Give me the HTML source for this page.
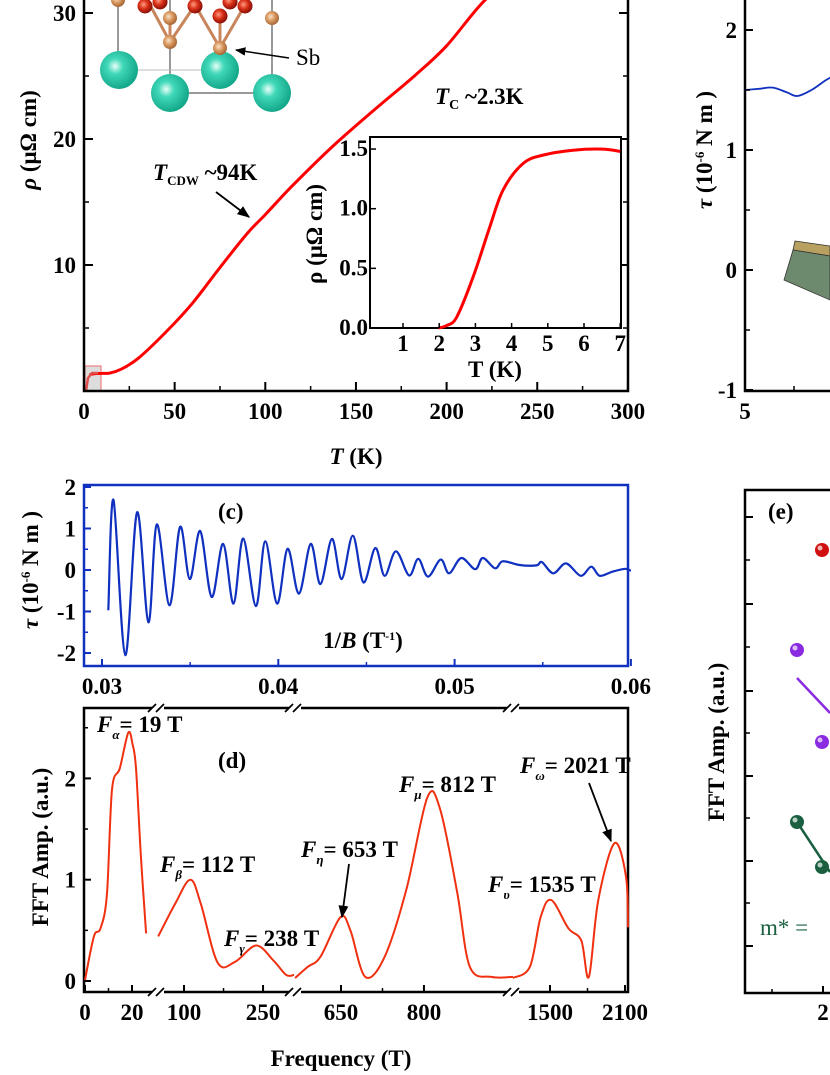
<!DOCTYPE html>
<html><head><meta charset="utf-8"><style>
html,body{margin:0;padding:0;background:#fff;}
svg{display:block;font-family:"Liberation Serif",serif;}
.t{font-weight:bold;font-size:23px;}
</style></head><body>
<svg id="fig" width="830" height="1075" viewBox="0 0 830 1075" xmlns="http://www.w3.org/2000/svg">
<defs>
<radialGradient id="teal" cx="0.4" cy="0.4" r="0.6"><stop offset="0" stop-color="#e8fff8"/><stop offset="0.35" stop-color="#3fd8b8"/><stop offset="1" stop-color="#14a88a"/></radialGradient>
<radialGradient id="sb" cx="0.4" cy="0.4" r="0.6"><stop offset="0" stop-color="#fbe4c8"/><stop offset="0.5" stop-color="#d99a62"/><stop offset="1" stop-color="#a86838"/></radialGradient>
<radialGradient id="rd" cx="0.4" cy="0.4" r="0.6"><stop offset="0" stop-color="#ff9a80"/><stop offset="0.5" stop-color="#d83018"/><stop offset="1" stop-color="#8a1008"/></radialGradient>
<marker id="arr" viewBox="0 0 10 10" refX="9" refY="5" markerWidth="7" markerHeight="7" orient="auto"><path d="M0,1 L10,5 L0,9 Z" fill="#000"/></marker>
</defs>
<g id="pa"></g>
<g id="pb"></g>
<g id="pc"></g>
<g id="pd"></g>
<g id="pe"></g>
</svg>
<script>
// ---- Panel a data ----
const aTemps=[3,6,10,14,20,30,46,60,75,90,100,115,137,160,183,200,221,240];
const aRho=[1.3,1.38,1.4,1.42,1.7,2.6,4.8,7,9.8,12.5,14,16.3,19.4,22.3,25.1,27.4,31,33];
const aXTicks=[0,50,100,150,200,250,300];
const aYTicks=[10,20,30];
// inset
const iTemps=[1.98,2.2,2.48,2.94,3.4,3.77,4.32,4.88,5.7,6.5,7];
const iRho=[0,0.02,0.09,0.43,0.85,1.16,1.38,1.45,1.49,1.5,1.48];
const iXTicks=[1,2,3,4,5,6,7];
const iYTicks=[0.0,0.5,1.0,1.5];
// ---- Panel b ----
const bField=[5,5.4,5.8,6.2,6.5,6.9,7.3,7.6];
const bTau=[1.5,1.51,1.52,1.48,1.45,1.5,1.58,1.63];
const bYTicks=[2,1,0,-1];
// ---- Panel c ----
const cInvB=[0.03036,0.03065,0.03132,0.03199,0.03263,0.03311,0.03383,0.03443,0.03498,0.03557,0.03622,0.03687,0.03746,0.03801,0.03873,0.03926,0.03993,0.04053,0.04117,0.04184,0.04239,0.04304,0.04359,0.04423,0.04483,0.0455,0.04603,0.04667,0.04742,0.04794,0.04849,0.04921,0.04969,0.05038,0.05117,0.0516,0.0523,0.05273,0.05368,0.05464,0.05495,0.0556,0.05632,0.05715,0.05775,0.05823,0.05895,0.05967,0.06];
const cTau=[-0.97,1.69,-2.05,1.39,-1.26,1.1,-0.85,1.04,-0.22,0.94,-0.65,0.63,-0.81,0.76,-0.87,0.69,-0.81,0.51,-0.57,0.63,-0.34,0.75,-0.22,0.83,-0.3,0.53,-0.14,0.45,-0.13,0.27,-0.16,0.25,-0.08,0.29,0.02,0.29,0.04,0.21,0.12,0.11,0.19,-0.08,0.16,-0.14,0.08,-0.14,-0.04,0.03,-0.02];
const cXTicks=[0.03,0.04,0.05,0.06];
const cYTicks=[2,1,0,-1,-2];
// ---- Panel d (segments) ----
const dF1=[0,3.8,6.6,9.3,11.5,14.8,18.4,20.2,21.7,23.8,26];
const dA1=[0.01,0.44,0.52,0.85,1.89,2.1,2.45,2.34,2.1,1.23,0.47];
const dF2=[51,83,112,132,164,197,237,270,294,309];
const dA2=[0.44,0.76,1.0,0.76,0.18,0.19,0.35,0.2,0.06,0.06];
const dF3=[567,590,613,649,667,694,729,768,806,829,860,883,922,961];
const dA3=[0.03,0.14,0.24,0.63,0.5,0.04,0.24,0.9,1.81,1.7,0.88,0.14,0.04,0.04];
const dF4=[1202,1339,1425,1510,1647,1750,1811,1886,2016,2108,2124];
const dA4=[0.03,0.14,0.63,0.8,0.52,0.4,0.04,0.8,1.36,1.03,0.53];
const dXTicks=[0,20,100,250,650,800,1500,2100];
const dYTicks=[0,1,2];

const NS="http://www.w3.org/2000/svg";
function mk(parent,tag,attrs,text){const e=document.createElementNS(NS,tag);for(const k in attrs)e.setAttribute(k,attrs[k]);if(text!==undefined)e.textContent=text;parent.appendChild(e);return e;}
function spline(pts){let d="M"+pts[0][0].toFixed(1)+","+pts[0][1].toFixed(1);for(let i=0;i<pts.length-1;i++){const p0=pts[i-1]||pts[i],p1=pts[i],p2=pts[i+1],p3=pts[i+2]||p2;const c1=[p1[0]+(p2[0]-p0[0])/6,p1[1]+(p2[1]-p0[1])/6],c2=[p2[0]-(p3[0]-p1[0])/6,p2[1]-(p3[1]-p1[1])/6];d+="C"+c1[0].toFixed(1)+","+c1[1].toFixed(1)+" "+c2[0].toFixed(1)+","+c2[1].toFixed(1)+" "+p2[0].toFixed(1)+","+p2[1].toFixed(1);}return d;}

// ===== Panel A =====
const pa=document.getElementById('pa');
const xA=t=>84+t*1.813, yA=r=>391-r*12.6;
const cr=mk(pa,'g',{});


[[118,0,118,70],[170,0,170,93],[272,0,272,93],[170,93,272,93]].forEach(l=>mk(cr,'line',{x1:l[0],y1:l[1],x2:l[2],y2:l[3],stroke:'#333','stroke-width':1}));
mk(cr,'line',{x1:119,y1:70,x2:220,y2:70,stroke:'#bbb','stroke-width':1});
[[170,18,170,42],[220,12,220,48],[195,5,220,48],[245,5,220,48],[195,5,170,42],[150,5,170,42]].forEach(l=>mk(cr,'line',{x1:l[0],y1:l[1],x2:l[2],y2:l[3],stroke:'#c8845a','stroke-width':3}));
[[119,70],[220,70],[170,93],[272,93]].forEach(c=>mk(cr,'circle',{cx:c[0],cy:c[1],r:19,fill:'url(#teal)'}));
[[118,0],[170,18],[272,18],[170,42],[220,48]].forEach(c=>mk(cr,'circle',{cx:c[0],cy:c[1],r:7,fill:'url(#sb)'}));
[[145,6],[195,6],[245,6],[220,16],[160,2],[230,2]].forEach(c=>mk(cr,'circle',{cx:c[0],cy:c[1],r:7.5,fill:'url(#rd)'}));
mk(cr,'line',{x1:289,y1:58,x2:236,y2:50,stroke:'#000','stroke-width':1.5,'marker-end':'url(#arr)'});
const sb=mk(pa,'text',{x:296,y:65,'font-size':23},'Sb');


mk(pa,'rect',{x:85,y:366,width:16,height:25,fill:'#ddd',stroke:'#f08080','stroke-width':1.2});
const mainPts=aTemps.map((t,i)=>[xA(t),yA(aRho[i])]);
const mc=mk(pa,'path',{d:spline(mainPts),fill:'none',stroke:'#f00','stroke-width':3});


mk(pa,'path',{d:'M86,391 L88,378 L92,373 L98,373',fill:'none',stroke:'#e05050','stroke-width':2.5});
mk(pa,'path',{d:'M84,0 V391 H628 V0',fill:'none',stroke:'#000','stroke-width':2.5});
for(let t=25;t<300;t+=50)mk(pa,'line',{x1:xA(t),y1:391,x2:xA(t),y2:386,stroke:'#000','stroke-width':1.5});
[5,15,25].forEach(r=>{mk(pa,'line',{x1:84,y1:yA(r),x2:89,y2:yA(r),stroke:'#000','stroke-width':1.5});mk(pa,'line',{x1:628,y1:yA(r),x2:623,y2:yA(r),stroke:'#000','stroke-width':1.5});});
aXTicks.forEach(t=>{mk(pa,'line',{x1:xA(t),y1:391,x2:xA(t),y2:382,stroke:'#000','stroke-width':2});
 const e=mk(pa,'text',{x:xA(t),y:419,'text-anchor':'middle',class:'t'},t);
 
 });
aYTicks.forEach(r=>{mk(pa,'line',{x1:84,y1:yA(r),x2:93,y2:yA(r),stroke:'#000','stroke-width':2});mk(pa,'line',{x1:628,y1:yA(r),x2:619,y2:yA(r),stroke:'#000','stroke-width':2});
 const e=mk(pa,'text',{x:76,y:yA(r)+8,'text-anchor':'end',class:'t'},r);
 
 });
const yta=mk(pa,'text',{transform:'translate(36,140) rotate(-90)','text-anchor':'middle',class:'t','font-size':25});
yta.innerHTML='<tspan font-style="italic">ρ</tspan> (μΩ cm)';


const xta=mk(pa,'text',{x:356,y:464,'text-anchor':'middle',class:'t','font-size':25});
xta.innerHTML='<tspan font-style="italic">T</tspan> (K)';


const tcdw=mk(pa,'text',{x:153,y:180,class:'t','font-size':23});
tcdw.innerHTML='<tspan font-style="italic">T</tspan><tspan font-size="13" dy="5">CDW</tspan><tspan dy="-5"> ~94K</tspan>';


mk(pa,'line',{x1:216,y1:192,x2:249,y2:217,stroke:'#000','stroke-width':1.8,'marker-end':'url(#arr)'});
const tc=mk(pa,'text',{x:435,y:104,class:'t','font-size':23});
tc.innerHTML='<tspan font-style="italic">T</tspan><tspan font-size="14" dy="5">C</tspan><tspan dy="-5"> ~2.3K</tspan>';


const xI=t=>403+(t-1)*36.2, yI=r=>328-r*119.3;
const ins=mk(pa,'g',{});


mk(ins,'rect',{x:370,y:137,width:251,height:191,fill:'#fff',stroke:'#000','stroke-width':2});
const ic=mk(ins,'path',{d:spline(iTemps.map((t,i)=>[xI(t),yI(iRho[i])])),fill:'none',stroke:'#f00','stroke-width':3});


iXTicks.forEach(t=>{mk(ins,'line',{x1:xI(t),y1:328,x2:xI(t),y2:323,stroke:'#000','stroke-width':1.5});
 const e=mk(ins,'text',{x:xI(t),y:351,'text-anchor':'middle',class:'t','font-size':20},t);
 
 });
iYTicks.forEach(r=>{mk(ins,'line',{x1:370,y1:yI(r),x2:376,y2:yI(r),stroke:'#000','stroke-width':1.5});
 const e=mk(ins,'text',{x:368,y:yI(r)+7,'text-anchor':'end',class:'t','font-size':20},r.toFixed(1));
 
 });
const iyt=mk(ins,'text',{transform:'translate(322,234) rotate(-90)','text-anchor':'middle',class:'t','font-size':20},'ρ (μΩ cm)');


const ixt=mk(ins,'text',{x:495,y:377,'text-anchor':'middle',class:'t','font-size':20},'T (K)');



// ===== Panel B =====
const pb=document.getElementById('pb');
const xB=b=>745+(b-5)*35, yB=v=>270-v*120;
mk(pb,'path',{d:'M745,0 V391 H830',fill:'none',stroke:'#000','stroke-width':2.5});
mk(pb,'polygon',{points:'795,241 830,246 830,256 793,250',fill:'#b8a060',stroke:'#333','stroke-width':0.8});
mk(pb,'polygon',{points:'793,250 830,256 830,300 784,280',fill:'#6e8a6e',stroke:'#333','stroke-width':0.8});
const bl=mk(pb,'path',{d:spline(bField.map((b,i)=>[xB(b),yB(bTau[i])])),fill:'none',stroke:'#1030c0','stroke-width':1.8});


bYTicks.forEach(v=>{mk(pb,'line',{x1:745,y1:yB(v),x2:753,y2:yB(v),stroke:'#000','stroke-width':2});
 const e=mk(pb,'text',{x:737,y:yB(v)+8,'text-anchor':'end',class:'t'},v===-1?'-1':v);
 
 });
[1.5,0.5,-0.5].forEach(v=>mk(pb,'line',{x1:745,y1:yB(v),x2:750,y2:yB(v),stroke:'#000','stroke-width':1.5}));
mk(pb,'line',{x1:794,y1:391,x2:794,y2:386,stroke:'#000','stroke-width':1.5});
const b5=mk(pb,'text',{x:745,y:419,'text-anchor':'middle',class:'t'},'5');


const byt=mk(pb,'text',{transform:'translate(712,150) rotate(-90)','text-anchor':'middle',class:'t'});
byt.innerHTML='<tspan font-style="italic">τ</tspan> (10<tspan font-size="13" dy="-8">-6</tspan><tspan dy="8"> N m )</tspan>';



// ===== Panel C =====
const pc=document.getElementById('pc');
const xC=v=>102+(v-0.03)*17630, yC=v=>570-v*41.5;
mk(pc,'rect',{x:84,y:485,width:544,height:181,fill:'none',stroke:'#1030c0','stroke-width':2.5});
const cl=mk(pc,'path',{d:spline(cInvB.map((v,i)=>[xC(v),yC(cTau[i])])),fill:'none',stroke:'#1030c0','stroke-width':2.2});


cXTicks.forEach(v=>{mk(pc,'line',{x1:xC(v),y1:666,x2:xC(v),y2:659,stroke:'#1030c0','stroke-width':2});
 const e=mk(pc,'text',{x:xC(v),y:694,'text-anchor':'middle',class:'t'},v.toFixed(2));
 
 });
[0.035,0.045,0.055].forEach(v=>mk(pc,'line',{x1:xC(v),y1:666,x2:xC(v),y2:662,stroke:'#1030c0','stroke-width':1.5}));
cYTicks.forEach(v=>{mk(pc,'line',{x1:84,y1:yC(v),x2:91,y2:yC(v),stroke:'#1030c0','stroke-width':2});
 const e=mk(pc,'text',{x:76,y:yC(v)+8,'text-anchor':'end',class:'t'},v);
 
 });
[1.5,0.5,-0.5,-1.5].forEach(v=>mk(pc,'line',{x1:84,y1:yC(v),x2:88,y2:yC(v),stroke:'#1030c0','stroke-width':1.5}));
const cLab=mk(pc,'text',{x:218,y:519,class:'t','font-size':24},'(c)');


const cxt=mk(pc,'text',{x:363,y:648,'text-anchor':'middle',class:'t','font-size':21});
cxt.innerHTML='1/<tspan font-style="italic">B</tspan> (T<tspan font-size="12" dy="-8">-1</tspan><tspan dy="8">)</tspan>';


const cyt=mk(pc,'text',{transform:'translate(38,570) rotate(-90)','text-anchor':'middle',class:'t'});
cyt.innerHTML='<tspan font-style="italic">τ</tspan> (10<tspan font-size="13" dy="-8">-6</tspan><tspan dy="8"> N m )</tspan>';



// ===== Panel D =====
const pd=document.getElementById('pd');
function xD(f){if(f<=31)return 85+f*2.35;if(f<=400)return 184+(f-100)*0.527;if(f<=1100)return 341+(f-650)*0.553;return 550+(f-1500)*0.125;}
const yD=a=>981-a*101.3;
const DB=992;
mk(pd,'rect',{x:84,y:708,width:544,height:DB-708,fill:'none',stroke:'#000','stroke-width':2.5});
[[dF1,dA1],[dF2,dA2],[dF3,dA3],[dF4,dA4]].forEach(s=>{
 const p=mk(pd,'path',{d:spline(s[0].map((f,i)=>[xD(f),yD(s[1][i])])),fill:'none',stroke:'#f03010','stroke-width':2});
 
 });
[158,295,513].forEach(x=>{[708,DB].forEach(y=>{
 mk(pd,'rect',{x:x-6,y:y-3,width:12,height:6,fill:'#fff'});
 mk(pd,'line',{x1:x-10,y1:y+4,x2:x-2,y2:y-4,stroke:'#000','stroke-width':1.8});
 mk(pd,'line',{x1:x-2,y1:y+4,x2:x+6,y2:y-4,stroke:'#000','stroke-width':1.8});});});
dXTicks.forEach(f=>{mk(pd,'line',{x1:xD(f),y1:DB,x2:xD(f),y2:DB-7,stroke:'#000','stroke-width':2});
 const e=mk(pd,'text',{x:xD(f),y:1020,'text-anchor':'middle',class:'t'},f);
 
 });
[10,175,725,1800].forEach(f=>mk(pd,'line',{x1:xD(f),y1:DB,x2:xD(f),y2:DB-4,stroke:'#000','stroke-width':1.5}));
dYTicks.forEach(a=>{mk(pd,'line',{x1:84,y1:yD(a),x2:91,y2:yD(a),stroke:'#000','stroke-width':2});
 const e=mk(pd,'text',{x:76,y:yD(a)+8,'text-anchor':'end',class:'t'},a);
 
 });
[0.5,1.5,2.5].forEach(a=>mk(pd,'line',{x1:84,y1:yD(a),x2:88,y2:yD(a),stroke:'#000','stroke-width':1.5}));
function fl(x,y,sub,val,name){const e=mk(pd,'text',{x:x,y:y,class:'t','font-size':21});
 e.innerHTML='<tspan font-style="italic">F</tspan><tspan font-style="italic" font-size="13" dy="7">'+sub+'</tspan><tspan dy="-7">= '+val+'</tspan>';
 
 }
fl(97,732,'α','19 T','f-alpha-label');
fl(160,872,'β','112 T','f-beta-label');
fl(224,946,'γ','238 T','f-gamma-label');
fl(301,857,'η','653 T','f-eta-label');
fl(399,792,'μ','812 T','f-mu-label');
fl(520,773,'ω','2021 T','f-omega-label');
fl(488,892,'υ','1535 T','f-upsilon-label');
mk(pd,'line',{x1:349,y1:864,x2:342,y2:917,stroke:'#000','stroke-width':1.8,'marker-end':'url(#arr)'});
mk(pd,'line',{x1:589,y1:783,x2:611,y2:841,stroke:'#000','stroke-width':1.8,'marker-end':'url(#arr)'});
const dLab=mk(pd,'text',{x:218,y:768,class:'t','font-size':24},'(d)');


const dxt=mk(pd,'text',{x:341,y:1066,'text-anchor':'middle',class:'t','font-size':25},'Frequency (T)');


const dyt=mk(pd,'text',{transform:'translate(48,847) rotate(-90)','text-anchor':'middle',class:'t','font-size':25},'FFT Amp. (a.u.)');



// ===== Panel E =====
const pe=document.getElementById('pe');
mk(pe,'path',{d:'M830,490 H745 V993 H830',fill:'none',stroke:'#000','stroke-width':2.5});
[517,604,691,776,861,946].forEach(y=>mk(pe,'line',{x1:745,y1:y,x2:753,y2:y,stroke:'#000','stroke-width':2}));
[560,647,733,818,903].forEach(y=>mk(pe,'line',{x1:745,y1:y,x2:750,y2:y,stroke:'#000','stroke-width':1.5}));
mk(pe,'line',{x1:772,y1:993,x2:772,y2:989,stroke:'#000','stroke-width':1.5});
mk(pe,'line',{x1:823,y1:993,x2:823,y2:986,stroke:'#000','stroke-width':2});
const e2=mk(pe,'text',{x:823,y:1020,'text-anchor':'middle',class:'t'},'2');


mk(pe,'line',{x1:797,y1:678,x2:830,y2:713,stroke:'#8a2be2','stroke-width':2.5});
mk(pe,'line',{x1:797,y1:822,x2:830,y2:872,stroke:'#1a6040','stroke-width':2.5});
[[822,550,'#d01010'],[797,650,'#8a2be2'],[822,742,'#8a2be2'],[797,822,'#1a6040'],[822,867,'#1a6040']].forEach(c=>{
 const p=mk(pe,'circle',{cx:c[0],cy:c[1],r:7,fill:c[2]});
 
 
 mk(pe,'circle',{cx:c[0]-2,cy:c[1]-2,r:2.5,fill:'#fff',opacity:0.7});});
const eLab=mk(pe,'text',{x:768,y:519,class:'t','font-size':23},'(e)');


const ms=mk(pe,'text',{x:760,y:935,'font-size':23,fill:'#1a6040'},'m* =');


const eyt=mk(pe,'text',{transform:'translate(724,742) rotate(-90)','text-anchor':'middle',class:'t','font-size':24},'FFT Amp. (a.u.)');


</script>
</body></html>
